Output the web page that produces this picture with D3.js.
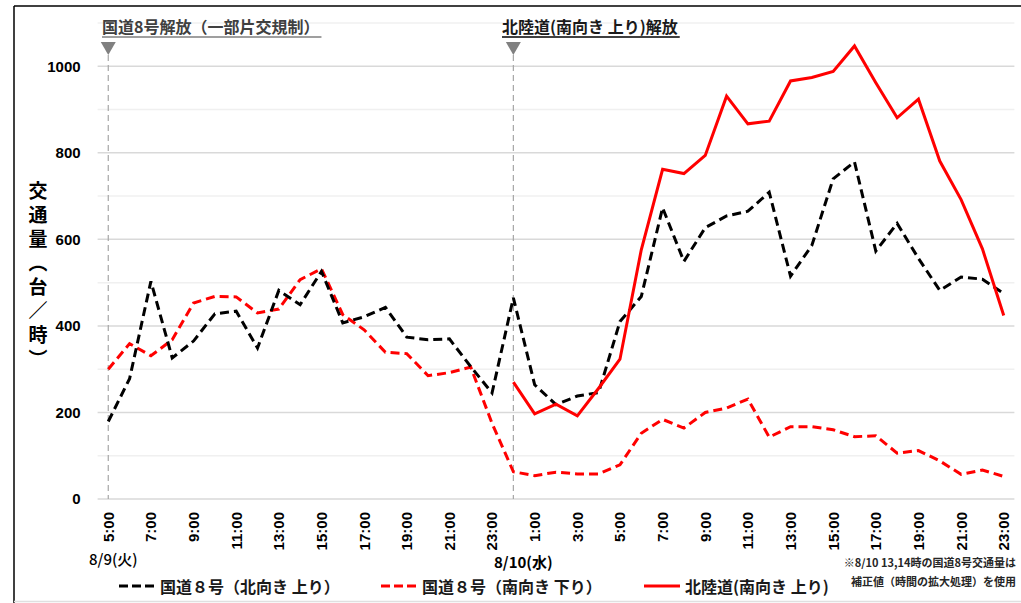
<!DOCTYPE html>
<html><head><meta charset="utf-8">
<script src="https://cdn.jsdelivr.net/npm/d3@7"></script>
<style>
html,body{margin:0;padding:0;background:#fff;}
svg{display:block;font-family:"Noto Sans CJK JP","Noto Sans",sans-serif;}
</style></head>
<body><svg id="c" width="1021" height="603"></svg>
<script>
// ---- data ----
const hours = ["5:00","6:00","7:00","8:00","9:00","10:00","11:00","12:00","13:00","14:00","15:00","16:00","17:00","18:00","19:00","20:00","21:00","22:00","23:00",
  "0:00","1:00","2:00","3:00","4:00","5:00","6:00","7:00","8:00","9:00","10:00","11:00","12:00","13:00","14:00","15:00","16:00","17:00","18:00","19:00","20:00","21:00","22:00","23:00"];
const route8North = [179,278,503,326,365,428,434,349,482,449,526,407,421,443,374,368,370,306,245,
  465,264,218,238,246,410,468,673,549,627,654,665,709,515,586,740,779,573,637,556,482,513,508,475];
const route8South = [300,359,331,368,453,468,467,430,439,507,532,426,391,339,336,285,292,305,175,
  63,54,62,58,58,79,152,184,164,200,210,231,143,167,167,160,144,146,106,112,88,57,67,52];
const hokurikuStart = 19;
const hokuriku = [270,197,219,192,256,323,576,762,752,794,931,867,873,966,974,988,1047,962,881,924,781,692,578,424];
const yTicks = [0,200,400,600,800,1000];
const dateLabels = ["8/9(火)","8/10(水)"];
const eventIdx = [0,19];
const eventLabels = ["国道8号解放（一部片交規制）","北陸道(南向き 上り)解放"];
const seriesNames = ["国道８号（北向き 上り）","国道８号（南向き 下り）","北陸道(南向き 上り)"];
const yTitle = "交通量（台／時）";
const noteLines = ["※8/10 13,14時の国道8号交通量は","補正値（時間の拡大処理）を使用"];

const svg = d3.select("#c");
const L = 97.6, R = 1014.4, T = 23, B = 499;
const xb = d3.scaleBand().domain(d3.range(hours.length)).range([L,R]).padding(0);
const xc = i => xb(i) + xb.bandwidth()/2;
const y = d3.scaleLinear().domain([0,1100]).range([B,T]);

// frame
svg.append("line").attr("x1",14).attr("x2",14).attr("y1",6).attr("y2",603).attr("stroke","#000").attr("stroke-width",1.5);
svg.append("line").attr("x1",14).attr("x2",1021).attr("y1",6).attr("y2",6).attr("stroke","#000").attr("stroke-width",1.5);
svg.append("line").attr("x1",14).attr("x2",1021).attr("y1",601.5).attr("y2",601.5).attr("stroke","#e0e0e0").attr("stroke-width",1.5);

// gridlines
svg.append("g").selectAll("line").data(d3.range(100,1101,100)).join("line")
  .attr("x1",L).attr("x2",R).attr("y1",d=>y(d)).attr("y2",d=>y(d))
  .attr("stroke",d=>d%200===0?"#d9d9d9":"#f0f0f0").attr("stroke-width",1.5);
svg.append("line").attr("x1",L).attr("x2",R).attr("y1",y(0)).attr("y2",y(0)).attr("stroke","#d9d9d9").attr("stroke-width",1.5);

// y axis
const ya = svg.append("g").attr("transform",`translate(${L},0)`)
  .call(d3.axisLeft(y).tickValues(yTicks).tickFormat(d3.format("d")).tickSize(0).tickPadding(17));
ya.select(".domain").remove();
ya.selectAll("text").attr("font-size",15).attr("font-weight",700).attr("fill","#000")
  .attr("font-family","'Liberation Sans',sans-serif");

// x axis
const xa = svg.append("g").attr("transform",`translate(0,${B})`)
  .call(d3.axisBottom(xb).tickValues(d3.range(0,hours.length,2)).tickFormat(i=>hours[i]).tickSize(0));
xa.select(".domain").remove();
xa.selectAll("text").attr("transform","rotate(-90)").attr("text-anchor","end")
  .attr("x",-13).attr("y",0).attr("dy","0.36em")
  .attr("font-size",15).attr("font-weight",700).attr("fill","#000")
  .attr("font-family","'Liberation Sans',sans-serif");

// date labels
svg.append("text").attr("x",89).attr("y",565).attr("font-size",15).attr("font-weight",500).attr("fill","#000").text(dateLabels[0]);
svg.append("text").attr("x",494).attr("y",568).attr("font-size",15).attr("font-weight",700).attr("fill","#000").text(dateLabels[1]);

// y title (vertical writing)
svg.append("text").attr("x",38).attr("y",181)
  .style("writing-mode","vertical-rl").style("glyph-orientation-vertical","0")
  .attr("letter-spacing",5)
  .attr("font-size",19).attr("font-weight",700).attr("fill","#000").text(yTitle);

// event markers
const ev = svg.append("g");
eventIdx.forEach((ix,k)=>{
  const x = xc(ix);
  ev.append("line").attr("x1",x).attr("x2",x).attr("y1",55).attr("y2",B)
    .attr("stroke","#a6a6a6").attr("stroke-width",1.2).attr("stroke-dasharray","6,4");
  ev.append("path").attr("d",`M${x-7.5},42L${x+7.5},42L${x},55Z`).attr("fill","#808080");
  const tx = k===0 ? 102 : 502;
  const t = ev.append("text").attr("x",tx).attr("y",33).attr("font-size",16).attr("font-weight",700)
    .attr("fill",k===0?"#404040":"#1a1a1a").text(eventLabels[k]);
  const w = t.node().getComputedTextLength();
  ev.append("line").attr("x1",tx).attr("x2",tx+w+2).attr("y1",37).attr("y2",37)
    .attr("stroke",k===0?"#7f7f7f":"#000").attr("stroke-width",1.3);
});

// series lines
const line = d3.line().x(d=>xc(d.i)).y(d=>y(d.v));
const northPts = route8North.map((v,i)=>({i,v}));
const southPts = route8South.map((v,i)=>({i,v}));
const hokPts = hokuriku.map((v,k)=>({i:k+hokurikuStart,v}));
svg.append("path").datum(southPts).attr("d",line).attr("fill","none").attr("stroke","#ff0000").attr("stroke-width",3).attr("stroke-dasharray","9,5");
svg.append("path").datum(northPts).attr("d",line).attr("fill","none").attr("stroke","#000").attr("stroke-width",3).attr("stroke-dasharray","9,5");
svg.append("path").datum(hokPts).attr("d",line).attr("fill","none").attr("stroke","#ff0000").attr("stroke-width",3);

// legend
const leg = [
  {x:119, color:"#000", dash:"9,4", name:seriesNames[0]},
  {x:381, color:"#ff0000", dash:"9,4", name:seriesNames[1]},
  {x:644, color:"#ff0000", dash:null, name:seriesNames[2]}
];
const lg = svg.append("g").selectAll("g").data(leg).join("g");
lg.append("line").attr("x1",d=>d.x).attr("x2",d=>d.x+36).attr("y1",586).attr("y2",586)
  .attr("stroke",d=>d.color).attr("stroke-width",3).attr("stroke-dasharray",d=>d.dash);
lg.append("text").attr("x",d=>d.x+41).attr("y",593).attr("font-size",16).attr("font-weight",700)
  .attr("fill","#1a1a1a").text(d=>d.name);

// note
svg.append("g").selectAll("text").data(noteLines).join("text")
  .attr("x",1016).attr("y",(d,i)=>567+i*19).attr("text-anchor","end")
  .attr("font-size",11).attr("font-weight",700).attr("fill","#262626").text(d=>d);
</script></body></html>
